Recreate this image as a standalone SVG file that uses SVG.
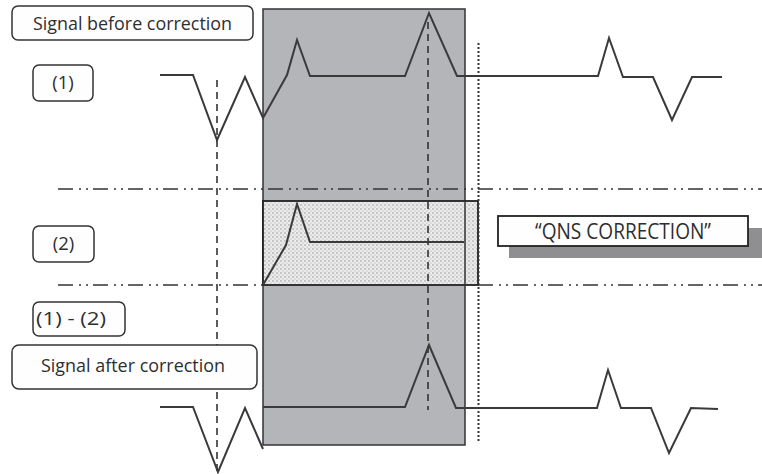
<svg xmlns="http://www.w3.org/2000/svg" width="762" height="474" viewBox="0 0 762 474">
<defs>
<pattern id="stip" width="4" height="4" patternUnits="userSpaceOnUse">
<rect width="4" height="4" fill="#ebebec"/>
<circle cx="1" cy="1" r="0.75" fill="#8e8e8e"/>
<circle cx="3" cy="3" r="0.6" fill="#a8a8a8"/>
</pattern>
</defs>
<style>
.lbl{fill:#fefefe;stroke:#333;stroke-width:1.5}
.t{font-family:"Open Sans","Noto Sans","DejaVu Sans",sans-serif;font-size:18.5px;fill:#2e2e2e}
.sig{fill:none;stroke:#3a3a3a;stroke-width:2;stroke-linejoin:miter}
.dash{fill:none;stroke:#333;stroke-width:1.6;stroke-dasharray:7 5}
.dot{fill:none;stroke:#333;stroke-width:2;stroke-dasharray:2 2}
.dd{fill:none;stroke:#333;stroke-width:1.6;stroke-dasharray:15 6 2 5 2 5}
</style>
<rect id="window" x="263" y="9" width="202" height="436" fill="#b4b5b9" stroke="#333" stroke-width="1.5"/>
<g id="qns-region">
<rect x="263" y="201" width="215" height="84" fill="url(#stip)" stroke="#222" stroke-width="1.8"/>
<line x1="465" y1="201" x2="465" y2="285" stroke="#333" stroke-width="1.5"/>
<path class="sig" d="M263,285 L286,245 L297,204 L310,242 L464,242"/>
</g>
<g id="connectors">
<line class="dd" x1="58" y1="189" x2="762" y2="189"/>
<line class="dd" x1="58" y1="285" x2="762" y2="285"/>
<line class="dash" x1="217" y1="80" x2="217" y2="472"/>
<line class="dash" x1="428" y1="22" x2="428" y2="410"/>
<line class="dot" x1="478.5" y1="43" x2="478.5" y2="443"/>
</g>
<g id="signal-before">
<path class="sig" d="M160,75 L193,75 L217,140 L245,77 L263,118 L287,75 L297,40 L310,76 L405,76 L429,13 L457,76 L598,76 L609,38 L623,77 L653,77 L672,120 L692,77 L722,77"/>
</g>
<g id="signal-after">
<path class="sig" d="M160,407 L193,407 L218,472 L245,408 L263,449 M263,407 L405,407 L429,345 L456,408 L597,408 L608,370 L621,408 L651,408 L669,453 L691,408 L718,409"/>
</g>
<g id="label-before">
<rect class="lbl" x="12" y="6" width="241" height="34" rx="6"/>
<text class="t" x="132.5" y="30" text-anchor="middle" textLength="199" lengthAdjust="spacingAndGlyphs">Signal before correction</text>
</g>
<g id="label-1">
<rect class="lbl" x="33" y="65" width="60" height="36" rx="6"/>
<text class="t" x="63" y="89" text-anchor="middle">(1)</text>
</g>
<g id="label-2">
<rect class="lbl" x="33" y="226" width="61" height="36" rx="6"/>
<text class="t" x="63.5" y="250" text-anchor="middle">(2)</text>
</g>
<g id="label-1-2">
<rect class="lbl" x="33" y="302" width="92" height="34" rx="6"/>
<text class="t" x="71" y="325" text-anchor="middle" textLength="70" lengthAdjust="spacingAndGlyphs">(1) - (2)</text>
</g>
<g id="label-after">
<rect class="lbl" x="12" y="345" width="245" height="44" rx="7"/>
<text class="t" x="133" y="372" text-anchor="middle" textLength="184" lengthAdjust="spacingAndGlyphs">Signal after correction</text>
</g>
<g id="qns-label">
<rect x="509" y="228" width="253" height="30" fill="#8f8f92"/>
<rect x="498" y="216" width="250" height="30" fill="#fefefe" stroke="#222" stroke-width="1.8"/>
<text class="t" x="623" y="238.5" text-anchor="middle" style="font-size:22px" textLength="176" lengthAdjust="spacingAndGlyphs">“QNS CORRECTION”</text>
</g>
</svg>
